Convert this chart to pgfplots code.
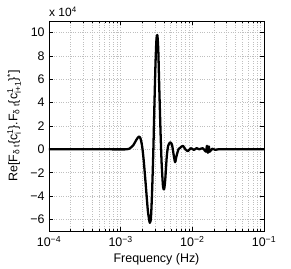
\documentclass[border=0pt]{standalone}
\usepackage{fontspec}
\setmainfont{Liberation Sans}
\usepackage{pgfplots}
\pgfplotsset{compat=1.18}
\newcommand{\sm}[1]{\mbox{\fontsize{8.5}{9}\selectfont #1}}
\begin{document}
\fontsize{12.5}{14}\selectfont
\begin{tikzpicture}
\useasboundingbox (0,0) rectangle (291bp,269bp);
\begin{axis}[
  at={(49bp,38bp)}, anchor=south west,
  scale only axis, width=215bp, height=210bp,
  xmode=log, xmin=1e-4, xmax=1e-1,
  ymin=-70000, ymax=110000,
  xtick={1e-4,1e-3,1e-2,1e-1},
  xticklabels={10\textsuperscript{−4},10\textsuperscript{−3},10\textsuperscript{−2},10\textsuperscript{−1}},
  ytick={-60000,-40000,-20000,0,20000,40000,60000,80000,100000},
  yticklabels={−6,−4,−2,0,2,4,6,8,10},
  scaled y ticks=false,
  tick align=inside, tick pos=both,
  major tick length=4bp, minor tick length=2bp,
  tick style={black, line width=0.5pt},
  grid=both,
  major grid style={gray!50, dotted, line width=0.6pt},
  minor grid style={gray!50, dotted, line width=0.6pt},
  minor y tick num=0,
  axis line style={black, line width=0.6pt},
  ticklabel style={font=\fontsize{12.5}{14}\selectfont},
  xticklabel style={yshift=-1bp},
  xlabel={Frequency (Hz)},
  xlabel style={at={(axis description cs:0.5,0)}, anchor=center, yshift=-28bp, font=\fontsize{12.5}{14}\selectfont},
  clip=true,
]
\addplot[black, line width=2.3pt, line join=round, smooth, tension=0.4] coordinates {
(1e-4,0) (6e-4,0) (1.2e-3,0) (1.35e-3,1000) (1.5e-3,3500) (1.65e-3,8000) (1.8e-3,11000)
(1.9e-3,9000) (2.0e-3,2000) (2.1e-3,-10000) (2.25e-3,-32000) (2.4e-3,-53000)
(2.55e-3,-63000) (2.65e-3,-58000) (2.75e-3,-35000) (2.86e-3,0) (2.95e-3,35000)
(3.05e-3,70000) (3.15e-3,93000) (3.25e-3,98000) (3.35e-3,85000) (3.45e-3,55000)
(3.6e-3,15000) (3.73e-3,-12000) (3.9e-3,-32000) (4.05e-3,-34000) (4.2e-3,-25000)
(4.4e-3,-6000) (4.6e-3,3000) (4.9e-3,6000) (5.2e-3,4000) (5.5e-3,-5000)
(5.75e-3,-11000) (6.0e-3,-6000) (6.4e-3,0) (6.8e-3,1500) (7.4e-3,3000)
(8.0e-3,0) (8.7e-3,-1500) (9.5e-3,1000) (0.0105,-500) (0.0115,1000) (0.0125,0)
(0.014,1000) (0.0155,-2000) (0.016,3000) (0.0165,-3000) (0.017,2500) (0.0175,-2000)
(0.019,500) (0.021,-500) (0.023,0) (0.05,0) (0.1,0)
};
\end{axis}
\node[anchor=south west, inner sep=0pt, font=\fontsize{12}{14}\selectfont] at (49bp,252bp) {x 10\textsuperscript{4}};
\node[rotate=90, anchor=center, inner sep=0pt, font=\fontsize{12.5}{14}\selectfont] at (14bp,143bp)
  {Re[F$_{\sm{δ t}}$\{c$^{\sm{1}}_{\sm{i}}$\}.F$_{\sm{δ t}}$\{c$^{\sm{1}}_{\sm{i+1}}$\}$^{\sm{*}}$]};
\end{tikzpicture}
\end{document}
